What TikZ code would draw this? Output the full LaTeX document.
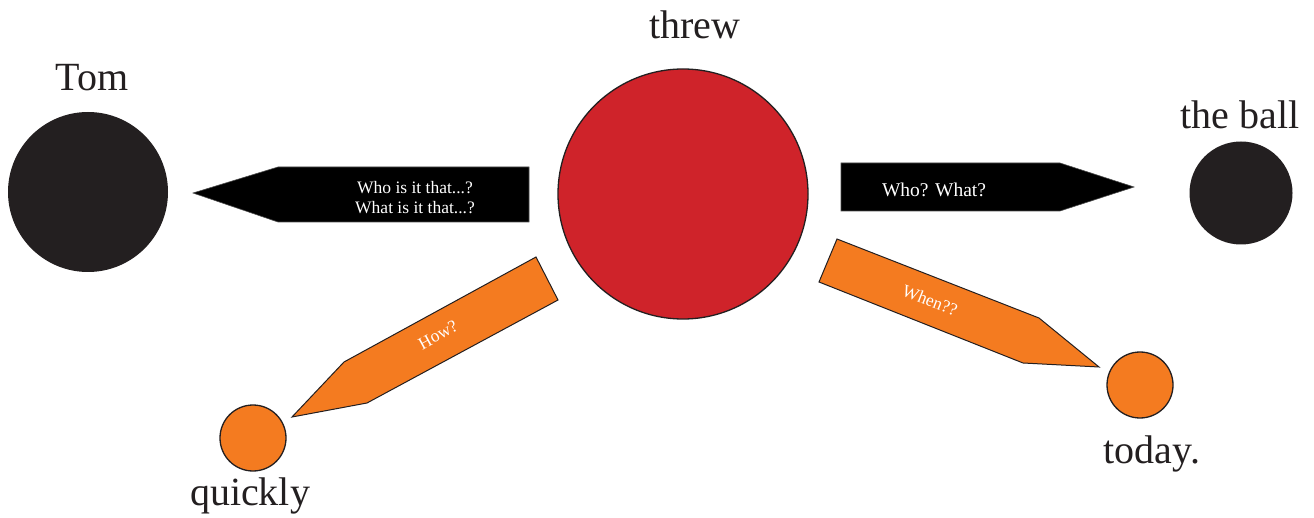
\documentclass[tikz,border=0pt]{standalone}
\usepackage{fontspec}
\setmainfont{Liberation Serif}
\definecolor{cred}{HTML}{CF232A}
\definecolor{corange}{HTML}{F47B20}
\definecolor{cblack}{HTML}{231F20}
\tikzset{
  word/.style={font=\fontsize{40}{44}\selectfont, text=cblack, inner sep=0pt},
  ball/.style={circle, inner sep=0pt, draw=cblack, line width=1.3pt},
  blackarrow/.style={fill=black, draw=black!70, line width=0.6pt},
  orangearrow/.style={fill=corange, draw=cblack, line width=1pt},
  qtext/.style={text=white, inner sep=0pt, align=center},
}
\begin{document}
\begin{tikzpicture}[x=1pt,y=-1pt]
\useasboundingbox (0,0) rectangle (1314,518);
% circles
\node[ball, fill=cred, minimum size=250pt] (threw) at (683,194) {};
\node[ball, fill=cblack, draw=none, minimum size=160pt] (tom) at (88,192) {};
\node[ball, fill=cblack, draw=none, minimum size=103pt] (theball) at (1241,193) {};
\node[ball, fill=corange, minimum size=66pt] (quickly) at (253,438) {};
\node[ball, fill=corange, minimum size=66pt] (today) at (1140,385) {};
% labels
\node[word] (lthrew) at (695,25) {threw};
\node[word] (ltom) at (92,78) {Tom};
\node[word] (lball) at (1240,115) {the ball};
\node[word] (lquick) at (250,496) {quickly};
\node[word] (ltoday) at (1152,454) {today.};
% black arrows
\path[blackarrow] (529,167) -- (278,167) -- (193,193) -- (278,222) -- (529,222) -- cycle;
\node[qtext, font=\fontsize{17.5}{20}\selectfont] (qwho) at (415,198) {Who is it that...?\\What is it that...?};
\path[blackarrow] (841,163) -- (1060,163) -- (1134,187) -- (1060,211) -- (841,211) -- cycle;
\node[qtext, font=\fontsize{19.5}{22}\selectfont] (qwhat) at (934,190) {Who? What?};
% orange arrows
\path[orangearrow] (536,257) -- (558,300) -- (367,403) -- (292,417) -- (344,362) -- cycle;
\node[qtext, font=\fontsize{17.5}{20}\selectfont, rotate=28.7] (qhow) at (438,335) {How?};
\path[orangearrow] (837,239) -- (819,282) -- (1023,363) -- (1099,367) -- (1039,318) -- cycle;
\node[qtext, font=\fontsize{17.5}{20}\selectfont, rotate=-21.4] (qwhen) at (930,300) {When??};
\end{tikzpicture}
\end{document}
